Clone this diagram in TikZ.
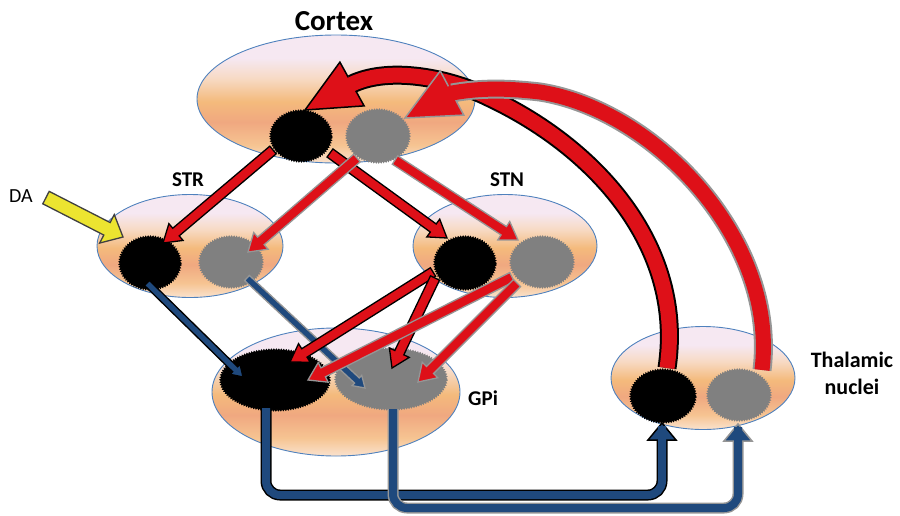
\documentclass[tikz,border=0pt]{standalone}
\usepackage{fontspec}
\setmainfont{Carlito}
\usetikzlibrary{calc,shapes.geometric,decorations.pathmorphing}

\definecolor{arrowred}{RGB}{222,16,24}
\definecolor{pathblue}{RGB}{31,73,125}
\definecolor{cellgray}{RGB}{128,128,128}
\definecolor{rimgray}{RGB}{150,150,150}
\definecolor{rimblue}{RGB}{79,129,189}
\definecolor{dayellow}{RGB}{236,228,48}
\definecolor{nucA}{RGB}{250,226,206}
\definecolor{nucB}{RGB}{246,196,146}
\definecolor{nucC}{RGB}{240,168,128}
\definecolor{nucD}{RGB}{244,186,124}
\definecolor{nucE}{RGB}{247,218,196}
\definecolor{nucF}{RGB}{246,232,242}

\pgfdeclareverticalshading{nucleus}{100bp}{color(0bp)=(nucA); color(25bp)=(nucA); color(32bp)=(nucB); color(41bp)=(nucC); color(49bp)=(nucD); color(58bp)=(nucE); color(66bp)=(nucF); color(100bp)=(nucF)}

\tikzset{
  nucleus/.style={ellipse, inner sep=0pt, shading=nucleus, draw=rimblue, line width=0.9pt},
  cell/.style={ellipse, inner sep=0pt, fill=#1, draw=#1, line width=0.8pt,
    decorate, decoration={bumps, segment length=5pt, amplitude=1.8pt}},
  tag/.style={font=\bfseries\fontsize{21}{25}\selectfont, anchor=base, inner sep=0pt},
}

% straight block arrow: fill, rim, from, to
\def\shaftw{5pt}\def\headw{11pt}\def\headl{17pt}
\newcommand{\blockarrow}[4]{%
  \coordinate (ba-s) at (#3);
  \coordinate (ba-t) at (#4);
  \coordinate (ba-c) at ($(ba-t)!\headl!(ba-s)$);
  \filldraw[fill=#1, draw=#2, line width=1.3pt, line join=miter]
    ($(ba-s)!\shaftw!90:(ba-t)$) -- ($(ba-c)!\shaftw!90:(ba-t)$) -- ($(ba-c)!\headw!90:(ba-t)$)
    -- (ba-t) -- ($(ba-c)!\headw!-90:(ba-t)$) -- ($(ba-c)!\shaftw!-90:(ba-t)$)
    -- ($(ba-s)!\shaftw!-90:(ba-t)$) -- cycle;
}
% head only: fill, rim, base, tip, half width
\newcommand{\arrowhead}[5]{%
  \filldraw[fill=#1, draw=#2, line width=1.5pt, line join=miter]
    ($(#3)!#5!90:(#4)$) -- (#4) -- ($(#3)!#5!-90:(#4)$) -- cycle;
}

\begin{document}
\begin{tikzpicture}[x=1pt, y=-1pt]
\useasboundingbox (0,0) rectangle (900,515);

% nuclei
\node[nucleus, minimum width=278pt, minimum height=128pt] (cortex) at (336,99) {};
\node[nucleus, minimum width=186pt, minimum height=103pt] (str) at (190,246) {};
\node[nucleus, minimum width=184pt, minimum height=103pt] (stn) at (505,246) {};
\node[nucleus, minimum width=248pt, minimum height=128pt] (gpi) at (336,392) {};
\node[nucleus, minimum width=184pt, minimum height=103pt] (thal) at (703,378) {};

% labels
\node[tag, font=\bfseries\fontsize{29}{33}\selectfont] (cortexlbl) at (334,30) {Cortex};
\node[tag] (strlbl) at (188,186) {STR};
\node[tag] (stnlbl) at (507,186) {STN};
\node[tag, anchor=base west, font=\bfseries\fontsize{21}{25}\selectfont] (gpilbl) at (468,405) {GPi};
\node[tag, anchor=center, align=center, font=\bfseries\fontsize{22}{27}\selectfont] (thallbl) at (852,373) {Thalamic\\nuclei};
\node[tag, font=\fontsize{20}{24}\selectfont] (dalbl) at (21,202) {DA};

% cells
\node[cell=black, minimum width=62pt, minimum height=52pt] (cxb) at (301,136) {};
\node[cell=cellgray, minimum width=64pt, minimum height=54pt] (cxg) at (378,136) {};
\node[cell=black, minimum width=62pt, minimum height=54pt] (strb) at (150,263) {};
\node[cell=cellgray, minimum width=64pt, minimum height=52pt] (strg) at (231,262) {};
\node[cell=black, minimum width=62pt, minimum height=54pt] (stnb) at (465,263) {};
\node[cell=cellgray, minimum width=64pt, minimum height=52pt] (stng) at (542,262) {};
\node[cell=cellgray, minimum width=112pt, minimum height=62pt] (gpg) at (391,379) {};
\node[cell=black, minimum width=110pt, minimum height=62pt] (gpb) at (275,380) {};
\node[cell=black, minimum width=66pt, minimum height=54pt] (thb) at (663,396) {};
\node[cell=cellgray, minimum width=64pt, minimum height=52pt] (thg) at (739,395) {};

% DA input
\def\shaftw{7pt}\def\headw{16pt}\def\headl{18pt}
\blockarrow{dayellow}{black!75}{$(dalbl.east)+(13,2)$}{$(str)+(-67,-9)$}

% STR -> GPi
\def\shaftw{3.5pt}\def\headw{7pt}\def\headl{11pt}
\blockarrow{pathblue}{black}{$(strb)+(-3,20)$}{$(gpb)+(-32,-3)$}
\blockarrow{pathblue}{rimgray}{$(strg)+(16,16)$}{$(gpg)+(-26,9)$}

% excitatory projections
\def\shaftw{5pt}\def\headw{11pt}\def\headl{17pt}
\blockarrow{arrowred}{black}{$(cxb)+(-28,14)$}{$(strb)+(13,-20)$}
\blockarrow{arrowred}{black}{$(cxb)+(29,17)$}{$(stnb)+(-18,-25)$}
\blockarrow{arrowred}{black}{$(stnb)+(-32,9)$}{$(gpb)+(15,-18)$}
\blockarrow{arrowred}{black}{$(stnb)+(-30,15)$}{$(gpg)+(1,-11)$}
\blockarrow{arrowred}{rimgray}{$(cxg)+(-21,22)$}{$(strg)+(17,-10)$}
\blockarrow{arrowred}{rimgray}{$(cxg)+(17,24)$}{$(stng)+(-24,-22)$}
\blockarrow{arrowred}{rimgray}{$(stng)+(-30,15)$}{$(gpb)+(33,0)$}
\blockarrow{arrowred}{rimgray}{$(stng)+(-25,21)$}{$(gpg)+(27,3)$}

% thalamus -> cortex
\coordinate (cb-start) at ($(thb)+(4,-28)$);
\coordinate (cb-base) at ($(cxb)+(51,-52)$);
\coordinate (cb-tip) at ($(cxb)+(4,-26)$);
\draw[black, line width=19pt] (cb-start) .. controls (685,250) and (600,150) .. (490,98)
  .. controls (450,78) and (390,66) .. (cb-base);
\arrowhead{arrowred}{black}{cb-base}{cb-tip}{25pt}
\draw[arrowred, line width=15pt, line join=round] (cb-start) .. controls (685,250) and (600,150) .. (490,98)
  .. controls (450,78) and (390,66) .. (cb-base) -- ($(cb-base)!3pt!(cb-tip)$);

\coordinate (cg-start) at ($(thg)+(23,-25)$);
\coordinate (cg-base) at ($(cxg)+(74,-43)$);
\coordinate (cg-tip) at ($(cxg)+(27,-18)$);
\draw[rimgray, line width=19pt] (cg-start) .. controls (778,240) and (655,110) .. (540,92)
  .. controls (505,88) and (480,88) .. (cg-base);
\arrowhead{arrowred}{rimgray}{cg-base}{cg-tip}{25pt}
\draw[arrowred, line width=15pt, line join=round] (cg-start) .. controls (778,240) and (655,110) .. (540,92)
  .. controls (505,88) and (480,88) .. (cg-base) -- ($(cg-base)!3pt!(cg-tip)$);

% GPi -> thalamus
\coordinate (lowa) at (0,495);
\coordinate (lowb) at (0,508);
\coordinate (ga-s) at ($(gpb)+(-9,28)$);
\coordinate (ga-t) at ($(thb)+(-1,27)$);
\coordinate (ga-c) at ($(ga-t)+(0,17)$);
\draw[black, line width=11pt, rounded corners=14pt] (ga-s) -- (ga-s |- lowa) -- (ga-c |- lowa) -- (ga-c);
\arrowhead{pathblue}{black}{ga-c}{ga-t}{14pt}
\draw[pathblue, line width=8pt, rounded corners=14pt] (ga-s) -- (ga-s |- lowa) -- (ga-c |- lowa) -- (ga-c) -- ++(0,-3);

\coordinate (gb-s) at ($(gpg)+(2,30)$);
\coordinate (gb-t) at ($(thg)+(-1,29)$);
\coordinate (gb-c) at ($(gb-t)+(0,17)$);
\draw[rimgray, line width=11pt, rounded corners=14pt] (gb-s) -- (gb-s |- lowb) -- (gb-c |- lowb) -- (gb-c);
\arrowhead{pathblue}{rimgray}{gb-c}{gb-t}{14pt}
\draw[pathblue, line width=8pt, rounded corners=14pt] (gb-s) -- (gb-s |- lowb) -- (gb-c |- lowb) -- (gb-c) -- ++(0,-3);
\end{tikzpicture}
\end{document}
